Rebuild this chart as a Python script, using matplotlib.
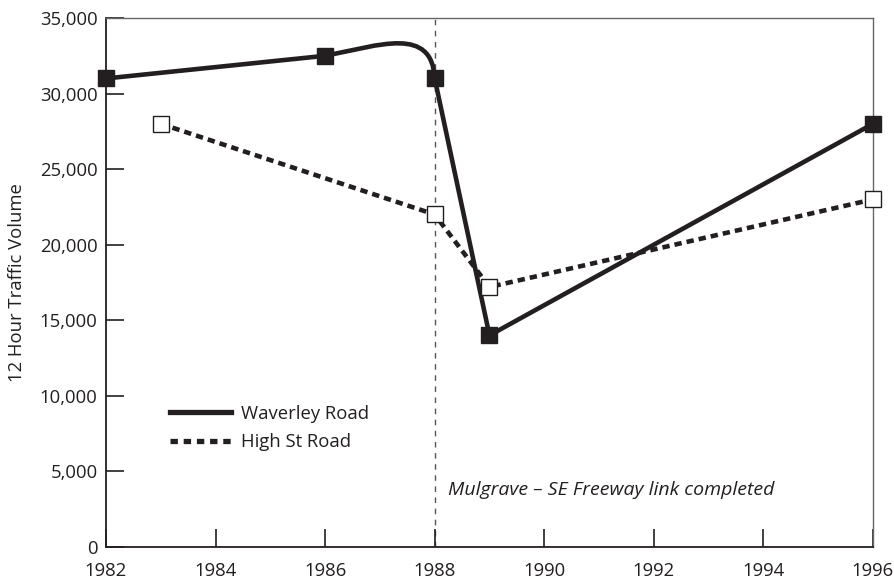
import matplotlib
matplotlib.use('Agg')
from matplotlib import pyplot as plt
from matplotlib.path import Path
from matplotlib.patches import PathPatch
from matplotlib.lines import Line2D

plt.rcParams['font.family'] = ['Open Sans', 'DejaVu Sans']

# data
waverley_years = [1982, 1986, 1988, 1989, 1996]
waverley_vol = [31000, 32500, 31000, 14000, 28000]
highst_years = [1983, 1988, 1989, 1996]
highst_vol = [28000, 22000, 17200, 23000]
event_year = 1988
event_text = 'Mulgrave \u2013 SE Freeway link completed'
xticks = [1982, 1984, 1986, 1988, 1990, 1992, 1994, 1996]
yticks = [0, 5000, 10000, 15000, 20000, 25000, 30000, 35000]

ink = '#231f20'
fs = 13.3

fig = plt.figure(figsize=(8.95, 5.79), dpi=100)
ax = fig.add_axes([0.1184, 0.0553, 0.857, 0.9136])

# event marker line
ax.axvline(event_year, color='#555555', lw=1.0, ls=(0, (4, 4)), zorder=1)

# Waverley Road: straight segments, smoothed bump before 1988
wx, wy = waverley_years, waverley_vol
verts = [(wx[0], wy[0]), (wx[1], wy[1]),
         (wx[1] + 1.0, wy[1] + 700), (wx[2] - 0.05, wy[1] + 2000), (wx[2], wy[2]),
         (wx[3], wy[3]), (wx[4], wy[4])]
codes = [Path.MOVETO, Path.LINETO,
         Path.CURVE4, Path.CURVE4, Path.CURVE4,
         Path.LINETO, Path.LINETO]
ax.add_patch(PathPatch(Path(verts, codes), fill=False, ec=ink, lw=3.3,
                       capstyle='round', joinstyle='round', zorder=3))
ax.plot(wx, wy, ls='none', marker='s', ms=12, mfc=ink, mec=ink, zorder=5,
        clip_on=False)

# High St Road
ax.plot(highst_years, highst_vol, color=ink, lw=3.3, ls=(0, (1.6, 1.1)),
        dash_capstyle='butt', marker='s', ms=11.5, mfc='white', mec=ink,
        mew=1.0, zorder=4, clip_on=False)

ax.text(event_year + 0.25, 3800, event_text, style='italic', fontsize=fs + 0.7,
        color=ink, va='center', ha='left')

ax.set_xlim(1982, 1996)
ax.set_ylim(0, 35000)
ax.set_xticks(xticks)
ax.set_yticks(yticks)
ax.set_yticklabels(['{:,}'.format(v) for v in yticks])
ax.tick_params(direction='in', length=13, width=1.2, color=ink,
               labelsize=fs, labelcolor=ink, top=False, right=False)
ax.tick_params(axis='x', pad=11)
ax.tick_params(axis='y', pad=6)
ax.set_ylabel('12 Hour Traffic Volume', fontsize=fs, color=ink, labelpad=10)

for side in ['left', 'bottom']:
    ax.spines[side].set_color(ink)
    ax.spines[side].set_linewidth(1.3)
for side in ['top', 'right']:
    ax.spines[side].set_color('#666666')
    ax.spines[side].set_linewidth(1.0)

handles = [Line2D([], [], color=ink, lw=3.8),
           Line2D([], [], color=ink, lw=3.8, ls=(0, (1.4, 1.1)), dash_capstyle='butt')]
ax.legend(handles, ['Waverley Road', 'High St Road'], frameon=False,
          loc='upper left', bbox_to_anchor=(0.062, 0.30), fontsize=fs,
          handlelength=3.3, handletextpad=0.55, labelspacing=0.55,
          labelcolor=ink)

fig.savefig('out.png', dpi=100)
